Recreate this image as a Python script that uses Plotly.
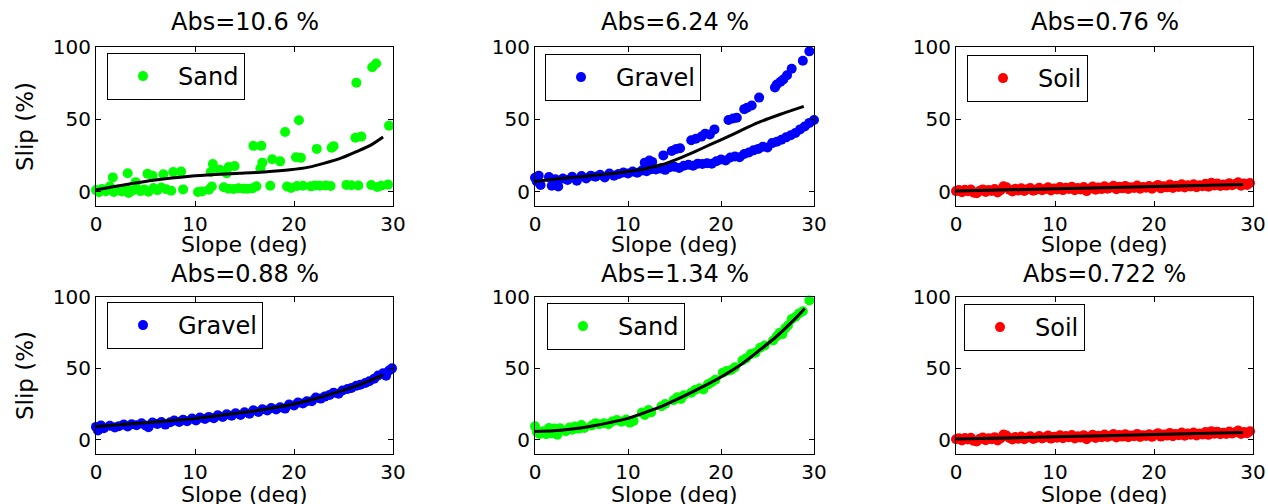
import plotly.graph_objects as go

# ---------------- data ----------------
titles = ["Abs=10.6 %", "Abs=6.24 %", "Abs=0.76 %", "Abs=0.88 %", "Abs=1.34 %", "Abs=0.722 %"]
names = ["Sand", "Gravel", "Soil", "Gravel", "Sand", "Soil"]
colors = ["#00FF00", "#0000FF", "#FF0000", "#0000FF", "#00FF00", "#FF0000"]
x_label = "Slope (deg)"
y_label = "Slip (%)"

x_ticks = [0, 10, 20, 30]
y_ticks = [0, 50, 100]

# top-left: points classified as Sand
tl_x = [0.0, 0.3, 0.6, 1.0, 1.4, 1.8, 2.2, 2.6, 3.0, 3.3, 3.7, 4.1, 4.5, 4.9, 5.3, 5.8, 6.2, 6.6, 7.1, 7.6,
        8.8, 10.3, 10.7, 11.4, 11.7, 12.9, 13.4, 13.9, 14.4, 14.9, 15.3, 15.8, 16.2, 17.6, 19.3, 19.7, 20.3,
        20.9, 21.7, 22.1, 22.6, 23.2, 23.7, 25.3, 25.8, 26.5, 27.8, 28.4, 28.8, 29.5,
        1.7, 3.2, 4.0, 5.2, 5.7, 6.8, 7.8, 8.6, 11.6, 11.8, 12.5, 13.2, 13.4, 14.0, 16.6, 16.8, 17.8, 18.6,
        20.2, 20.7, 22.3, 23.8, 24.0, 26.2, 26.8,
        15.9, 16.7, 19.1, 20.5, 26.3, 27.9, 28.3, 29.6]
tl_y = [1.0, -0.5, 1.8, 0.2, 3.5, -0.3, 1.2, 0.0, 2.0, -1.0, 0.8, 2.2, 0.3, 1.5, -0.2, 2.5, 1.0, 2.8, 1.6, 0.6,
        1.5, -0.3, 0.0, 1.2, 3.5, 3.0, 2.0, 1.8, 2.3, 2.0, 1.9, 2.2, 3.6, 4.0, 3.5, 2.5, 3.8,
        4.0, 3.6, 4.2, 4.0, 4.2, 3.8, 4.6, 4.4, 4.2, 4.5, 3.2, 4.0, 4.8,
        9.8, 12.6, 6.5, 12.3, 11.0, 12.0, 13.5, 13.8, 13.5, 19.0, 15.0, 12.6, 17.0, 17.6, 16.0, 20.0, 22.3, 20.9,
        23.7, 23.3, 29.5, 30.3, 31.4, 37.2, 38.0,
        31.6, 31.6, 41.2, 49.3, 75.3, 86.0, 88.6, 45.6]
tl_fit_x = [0.0, 2.8, 6.0, 9.5, 12.0, 14.5, 17.0, 19.6, 21.5, 23.0, 24.8, 26.3, 27.8, 29.0]
tl_fit_y = [1.2, 4.6, 8.0, 10.6, 11.8, 12.6, 13.5, 15.0, 16.9, 19.5, 23.3, 27.6, 32.3, 37.7]

# top-middle: points classified as Gravel
tm_x = [0.0, 0.2, 0.4, 0.6, 1.5, 1.8, 2.2, 2.5, 3.0, 3.5, 4.0, 4.5, 5.0, 5.5, 6.0, 6.5, 7.0, 7.5, 8.0, 8.5,
        9.0, 9.5, 10.0, 10.5, 11.0, 11.5, 12.0, 12.5, 13.0, 13.5, 14.0, 14.5, 15.0, 15.5, 16.0, 16.5, 17.0,
        17.5, 18.0, 18.5, 19.0, 19.5, 20.0, 20.5, 21.0, 21.5, 22.0, 22.5, 23.0, 23.5, 24.0, 24.5, 25.0, 25.5,
        26.0, 26.5, 27.0, 27.5, 28.0, 28.5, 29.0, 29.5, 30.0,
        11.8, 12.3, 12.6, 13.8, 14.7, 15.2, 15.6, 16.8, 17.3, 17.9, 18.3, 18.8, 19.3, 20.8, 21.3, 21.7, 22.5,
        22.8, 23.3, 24.1, 25.8, 26.0, 26.4, 26.7, 27.1, 27.6, 28.8, 29.5]
tm_y = [9.5, 7.0, 11.0, 4.5, 10.0, 4.0, 8.5, 3.5, 9.0, 8.0, 10.2, 7.5, 10.8, 9.0, 11.0, 10.2, 11.6, 9.8, 12.5, 11.0,
        12.2, 13.2, 12.5, 13.8, 13.0, 14.6, 14.0, 15.5, 15.2, 16.0, 15.0, 16.8, 17.2, 16.3, 17.8, 18.5, 17.8,
        19.3, 19.0, 19.6, 19.2, 21.0, 22.2, 21.5, 23.5, 24.2, 23.8, 26.0, 27.0, 28.5, 29.5, 31.0, 30.5, 33.5,
        34.5, 35.8, 37.5, 39.0, 40.5, 43.0, 45.0, 47.5, 49.5,
        20.0, 21.5, 20.5, 25.0, 28.0, 29.5, 30.0, 35.5, 36.5, 38.0, 40.0, 39.5, 43.0, 49.5, 50.5, 51.0, 57.0,
        58.0, 59.5, 65.0, 72.0, 74.0, 76.0, 77.5, 80.5, 85.0, 90.5, 97.0]
tm_fit_x = [0.0, 2.0, 4.0, 6.4, 8.0, 10.0, 12.0, 13.6, 15.5, 17.2, 19.0, 20.75, 22.5, 24.3, 26.6, 28.9]
tm_fit_y = [7.0, 8.5, 9.8, 11.2, 12.3, 13.9, 16.0, 18.5, 23.0, 27.7, 32.9, 38.0, 43.3, 48.5, 53.9, 58.9]

# soil data (same trials in both soil panels)
soil_x = [0.0, 0.3, 0.6, 0.9, 1.2, 1.5, 1.8, 2.1, 2.4, 2.7, 3.0, 3.3, 3.6, 3.9, 4.2, 4.5, 4.8, 5.1, 5.4, 5.7,
          6.0, 6.3, 6.6, 6.9, 7.2, 7.5, 7.8, 8.1, 8.4, 8.7, 9.0, 9.3, 9.6, 9.9, 10.2, 10.5, 10.8, 11.1, 11.4,
          11.7, 12.0, 12.3, 12.6, 12.9, 13.2, 13.5, 13.8, 14.1, 14.4, 14.7, 15.0, 15.3, 15.6, 15.9, 16.2, 16.5,
          16.8, 17.1, 17.4, 17.7, 18.0, 18.3, 18.6, 18.9, 19.2, 19.5, 19.8, 20.1, 20.4, 20.7, 21.0, 21.3, 21.6,
          21.9, 22.2, 22.5, 22.8, 23.1, 23.4, 23.7, 24.0, 24.3, 24.6, 24.9, 25.2, 25.5, 25.8, 26.1, 26.4, 26.7,
          27.0, 27.3, 27.6, 27.9, 28.2, 28.5, 28.8, 29.1, 29.4, 29.7]
soil_y = [0.3, 1.0, -0.5, 1.2, 0.2, 1.4, -0.8, -1.2, 0.6, 1.5, -0.3, 1.1, 0.4, 1.8, -0.6, 0.9, 3.6, 3.0, 1.2, 0.1,
          1.9, 0.7, 2.2, 0.4, 1.6, 2.4, 0.5, 1.3, 2.6, 0.9, 1.7, 2.9, 0.8, 2.1, 1.4, 3.1, 1.0, 2.6, 1.8,
          3.3, 0.9, 2.4, 1.5, 3.2, 0.3, 2.0, 3.5, 1.2, 2.8, 1.7, 3.6, 1.9, 2.7, 4.0, 1.6, 3.3,
          2.2, 3.9, 1.8, 3.0, 2.4, 4.1, 1.9, 3.2, 2.6, 3.8, 2.0, 3.4, 4.6, 2.2, 3.7, 2.9, 4.8,
          2.5, 4.0, 3.2, 5.0, 2.8, 4.3, 3.5, 5.1, 3.0, 4.4, 3.7, 5.4, 3.4, 6.0, 4.2, 5.6, 3.8,
          4.9, 4.1, 5.8, 4.4, 5.2, 6.4, 4.0, 5.5, 4.6, 5.9]
tr_fit_x = [0.0, 10.0, 20.0, 29.0]
tr_fit_y = [0.4, 1.9, 3.5, 4.9]
br_fit_x = [0.0, 10.0, 20.0, 29.0]
br_fit_y = [0.5, 2.0, 3.6, 5.1]

# bottom-left: gravel
gr_x = [0.0, 0.2, 0.5, 0.8, 1.4, 1.9, 2.3, 2.8, 3.2, 3.6, 4.1, 4.6, 5.0, 5.3, 5.7, 6.2, 6.6, 7.0, 7.5, 7.9,
        8.4, 8.8, 9.2, 9.7, 10.1, 10.5, 11.0, 11.4, 11.9, 12.3, 12.8, 13.2, 13.7, 14.1, 14.6, 15.0, 15.5, 15.9,
        16.4, 16.8, 17.3, 17.7, 18.2, 18.6, 19.1, 19.5, 20.0, 20.4, 20.9, 21.3, 21.8, 22.2, 22.7, 23.1, 23.6,
        24.0, 24.5, 24.9, 25.4, 25.8, 26.3, 26.7, 27.2, 27.6, 28.1, 28.5, 29.0, 29.3, 29.6, 29.9]
gr_y = [9.0, 6.5, 10.0, 8.0, 9.8, 8.6, 9.5, 10.6, 9.3, 10.9, 10.2, 11.5, 10.0, 8.8, 12.0, 11.0, 12.4, 10.6, 12.2, 13.5,
        12.4, 14.0, 13.0, 14.8, 13.5, 15.5, 14.6, 16.0, 15.0, 17.2, 15.9, 17.8, 16.8, 18.6, 17.3, 19.3, 18.2, 20.6,
        19.4, 21.3, 20.5, 22.2, 21.2, 22.8, 21.8, 24.7, 24.0, 26.0, 25.4, 27.0, 26.9, 29.5, 28.8, 30.2, 31.4,
        33.0, 32.2, 34.5, 35.5, 36.2, 37.8, 38.5, 39.8, 41.0, 42.8, 45.0, 46.5, 44.8, 48.5, 50.0]
gr_fit_x = [0.0, 4.0, 8.0, 10.0, 12.0, 14.0, 16.0, 18.0, 20.0, 22.0, 24.0, 26.0, 28.0, 29.0]
gr_fit_y = [9.3, 11.4, 13.6, 14.9, 16.6, 18.3, 20.2, 22.4, 25.0, 28.5, 32.5, 37.0, 42.5, 45.5]

# bottom-middle: sand
sd_x = [0.0, 0.2, 0.5, 0.9, 1.2, 1.5, 1.8, 2.1, 2.4, 2.7, 3.3, 3.7, 4.0, 4.3, 4.7, 5.0, 5.3, 6.1, 6.5, 6.9,
        7.4, 7.9, 8.3, 8.8, 9.3, 9.8, 10.2, 10.6, 11.5, 11.8, 12.2, 12.5, 13.6, 14.0, 14.9, 15.3, 15.7, 16.0,
        16.8, 17.2, 17.7, 18.1, 18.6, 19.0, 19.4, 20.2, 20.6, 21.1, 21.5, 22.3, 22.7, 23.2, 23.7, 24.2, 24.7,
        25.6, 26.0, 26.3, 26.6, 26.9, 27.2, 27.6, 28.0, 28.4, 28.8, 29.5]
sd_y = [9.5, 5.5, 4.0, 6.0, 3.8, 8.2, 4.5, 7.8, 3.5, 8.0, 6.0, 8.6, 7.0, 9.2, 7.8, 10.3, 8.2, 10.0, 11.5, 10.8,
        11.6, 10.9, 12.8, 13.8, 12.6, 14.2, 12.0, 13.2, 19.0, 17.4, 20.8, 19.2, 23.5, 25.0, 27.6, 29.8, 28.5, 31.2,
        33.0, 34.8, 36.0, 35.2, 38.8, 40.3, 42.0, 47.0, 48.2, 48.8, 50.8, 55.5, 57.0, 60.0, 61.0, 64.5, 66.0,
        69.5, 72.5, 75.0, 74.0, 78.0, 80.0, 84.5, 86.0, 88.5, 90.0, 97.5]
sd_fit_x = [0.0, 2.0, 4.0, 6.0, 8.0, 10.0, 12.0, 14.0, 16.0, 18.0, 20.0, 22.0, 24.0, 26.0, 28.0, 29.0]
sd_fit_y = [5.8, 6.3, 7.5, 9.5, 12.0, 15.0, 19.5, 24.5, 30.5, 37.0, 44.0, 52.0, 62.0, 72.5, 85.0, 92.0]

points = [(tl_x, tl_y), (tm_x, tm_y), (soil_x, soil_y), (gr_x, gr_y), (sd_x, sd_y), (soil_x, soil_y)]
fits = [(tl_fit_x, tl_fit_y), (tm_fit_x, tm_fit_y), (tr_fit_x, tr_fit_y),
        (gr_fit_x, gr_fit_y), (sd_fit_x, sd_fit_y), (br_fit_x, br_fit_y)]

# ---------------- layout geometry ----------------
W, H = 1268, 504
FONT = "DejaVu Sans"
x_domains = [[96 / W, 393 / W], [535 / W, 814 / W], [956 / W, 1253 / W]]
y_domains = [[1 - 206 / H, 1 - 47 / H], [1 - 454 / H, 1 - 297 / H]]
legend_pos = [(107, 53), (545, 54), (967, 55), (107, 302), (547, 303), (964, 304)]
title_y = [22, 274]
xlabel_y = [244, 494]

fig = go.Figure()
layout = dict(
    width=W, height=H,
    margin=dict(l=0, r=0, t=0, b=0, autoexpand=False),
    paper_bgcolor="white", plot_bgcolor="white",
    font=dict(family=FONT, color="black", size=20),
    annotations=[],
)

for i in range(6):
    r, c = divmod(i, 3)
    ax = "" if i == 0 else str(i + 1)
    lg = "legend" if i == 0 else "legend%d" % (i + 1)
    px, py = points[i]
    fx, fy = fits[i]
    fig.add_trace(go.Scatter(
        x=px, y=py, mode="markers", name=names[i],
        marker=dict(color=colors[i], size=10, line=dict(width=0)),
        cliponaxis=False, xaxis="x" + ax, yaxis="y" + ax, legend=lg,
    ))
    fig.add_trace(go.Scatter(
        x=fx, y=fy, mode="lines", line=dict(color="black", width=3, shape="spline", smoothing=0.8),
        showlegend=False, cliponaxis=False, xaxis="x" + ax, yaxis="y" + ax,
    ))
    common = dict(showline=True, linecolor="black", linewidth=1, mirror="ticks", ticks="inside",
                  ticklen=5, tickcolor="black", showgrid=False, zeroline=False, automargin=False,
                  tickfont=dict(family=FONT, size=20, color="black"))
    layout["xaxis" + ax] = dict(domain=x_domains[c], range=[0, 30], tickvals=x_ticks,
                                anchor="y" + ax, **common)
    ydict = dict(domain=y_domains[r], range=[-10, 100], tickvals=y_ticks, anchor="x" + ax, **common)
    if c == 0:
        ydict["title"] = dict(text=y_label, font=dict(family=FONT, size=23), standoff=12)
    layout["yaxis" + ax] = ydict
    lx, ly = legend_pos[i]
    layout[lg] = dict(x=lx / W, y=1 - ly / H, xanchor="left", yanchor="top",
                      bordercolor="black", borderwidth=1, bgcolor="white",
                      font=dict(family=FONT, size=24, color="black"), itemwidth=60)
    xc = (x_domains[c][0] + x_domains[c][1]) / 2
    layout["annotations"].append(dict(
        text=titles[i], x=xc, y=1 - title_y[r] / H, xref="paper", yref="paper",
        xanchor="center", yanchor="middle", showarrow=False,
        font=dict(family=FONT, size=24, color="black")))
    layout["annotations"].append(dict(
        text=x_label, x=xc, y=1 - xlabel_y[r] / H, xref="paper", yref="paper",
        xanchor="center", yanchor="middle", showarrow=False,
        font=dict(family=FONT, size=22, color="black")))

fig.update_layout(**layout)
fig.write_html("out.html", config={"displayModeBar": False},
               post_script="document.body.style.margin='0px';")
